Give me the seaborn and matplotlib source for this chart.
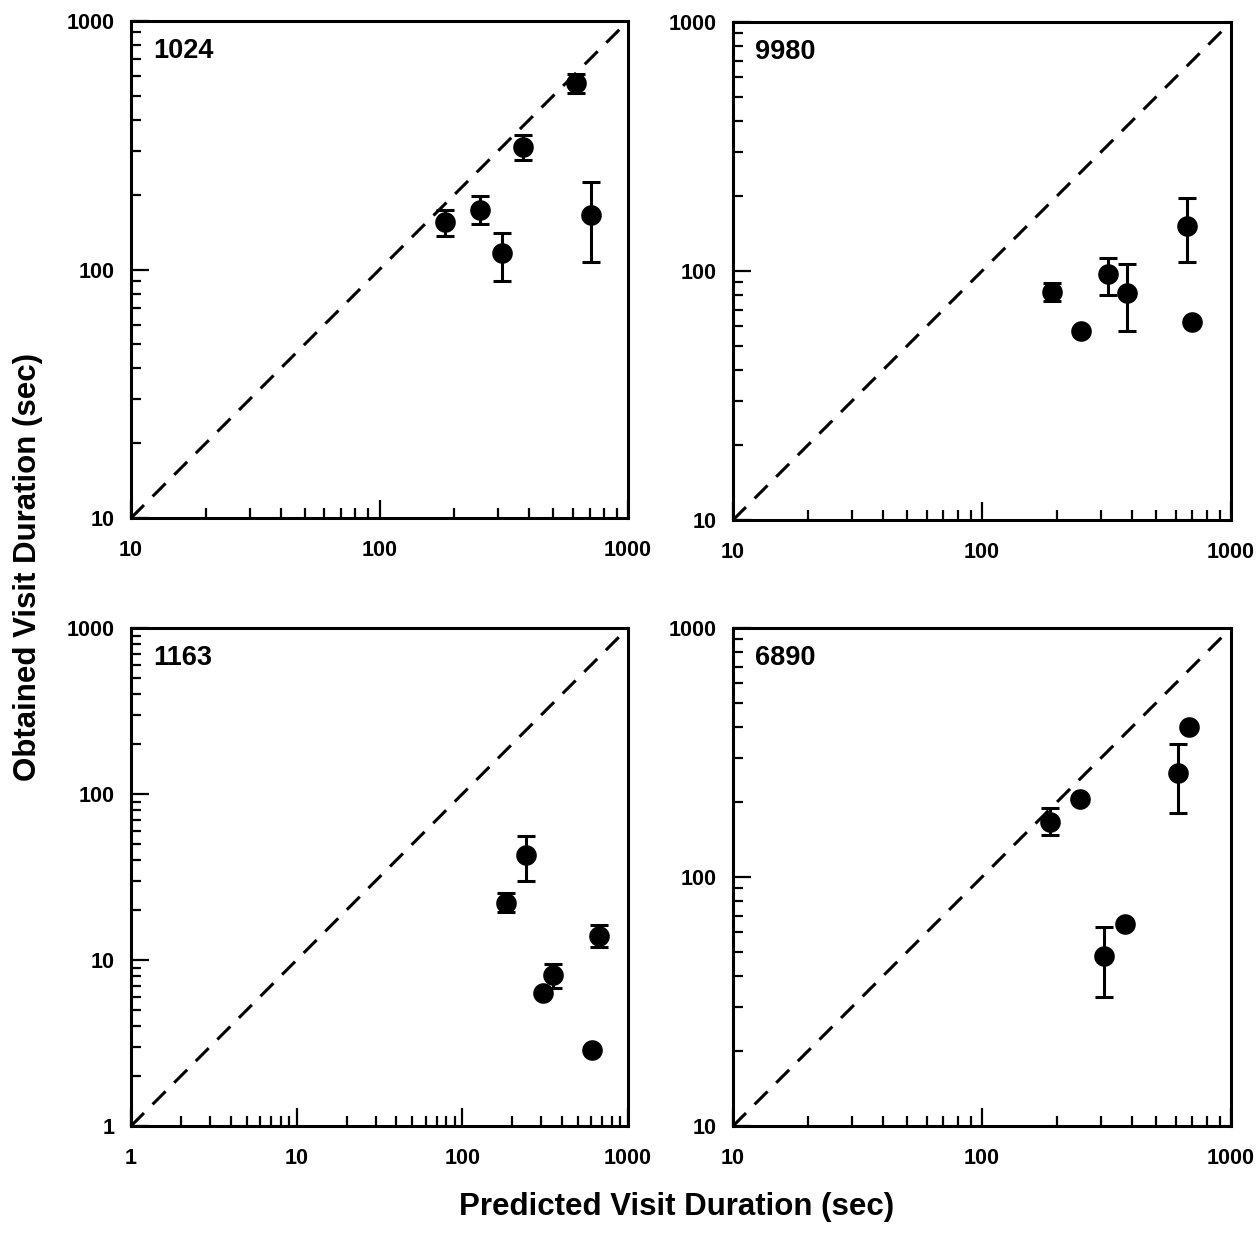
import numpy as np
import pandas as pd
import matplotlib
matplotlib.use("Agg")
import matplotlib.pyplot as plt
from matplotlib.ticker import LogLocator, FixedLocator, NullFormatter, FixedFormatter
import seaborn as sns

sns.set_theme(style="white")
plt.rcParams['font.family'] = ['Liberation Sans', 'DejaVu Sans']
plt.rcParams['font.weight'] = 'bold'

# ---------------- data ----------------
panel_names = ["1024", "9980", "1163", "6890"]

pred_1024 = [184, 253, 310, 378, 615, 709]
obt_1024 = [155, 174, 116, 310, 562, 166]
lo_1024 = [136, 152, 90, 277, 513, 107]
hi_1024 = [173, 197, 140, 348, 611, 225]

pred_9980 = [191, 249, 321, 384, 663, 697]
obt_9980 = [82.7, 57.5, 97, 81.8, 152, 62.5]
lo_9980 = [75.9, np.nan, 80.2, 57.5, 109, np.nan]
hi_9980 = [89.8, np.nan, 113, 106.6, 196, np.nan]

pred_1163 = [183, 242, 306, 352, 607, 668]
obt_1163 = [22.2, 43.2, 6.35, 8.15, 2.87, 14.0]
lo_1163 = [19.4, 30.1, np.nan, 6.8, np.nan, 11.9]
hi_1163 = [25.5, 55.7, np.nan, 9.5, np.nan, 16.3]

pred_6890 = [187, 247, 308, 374, 612, 678]
obt_6890 = [167, 205, 48.3, 65, 261, 400]
lo_6890 = [148, np.nan, 33, np.nan, 180, np.nan]
hi_6890 = [189, np.nan, 63.2, np.nan, 341, np.nan]

axis_min = [10, 10, 1, 10]
axis_max = [1000, 1000, 1000, 1000]

x_label = "Predicted Visit Duration (sec)"
y_label = "Obtained Visit Duration (sec)"

series = [
    (pred_1024, obt_1024, lo_1024, hi_1024),
    (pred_9980, obt_9980, lo_9980, hi_9980),
    (pred_1163, obt_1163, lo_1163, hi_1163),
    (pred_6890, obt_6890, lo_6890, hi_6890),
]

# ---------------- layout ----------------
W, H = 1260, 1251
fig = plt.figure(figsize=(W / 100, H / 100), dpi=100)
boxes_px = [  # left, top, right, bottom in pixels
    (131, 21, 628, 518),
    (733, 22, 1231, 520),
    (131, 628, 628, 1126),
    (733, 628, 1231, 1126),
]

for i, (l, t, r, b) in enumerate(boxes_px):
    ax = fig.add_axes([l / W, 1 - b / H, (r - l) / W, (b - t) / H])
    pred, obt, lo, hi = series[i]
    df = pd.DataFrame({"pred": pred, "obt": obt, "lo": lo, "hi": hi})
    lo_a = df["lo"].to_numpy(dtype=float)
    hi_a = df["hi"].to_numpy(dtype=float)
    yerr = np.vstack([df["obt"] - lo_a, hi_a - df["obt"]])
    mn, mx = axis_min[i], axis_max[i]

    ax.set_xscale("log")
    ax.set_yscale("log")
    ax.plot([mn, mx], [mn, mx], color="black", lw=2.2,
            linestyle=(0, (6, 4)), zorder=1)
    ax.errorbar(df["pred"], df["obt"], yerr=yerr, fmt="none", ecolor="black",
                elinewidth=2.2, capsize=6.8, capthick=2.2, zorder=2)
    sns.scatterplot(data=df, x="pred", y="obt", ax=ax, color="black",
                    s=220, linewidth=0, zorder=3, legend=False)
    ax.set_xlim(mn, mx)
    ax.set_ylim(mn, mx)

    majors = [10 ** k for k in range(int(np.log10(mn)), int(np.log10(mx)) + 1)]
    ax.xaxis.set_major_locator(FixedLocator(majors))
    ax.yaxis.set_major_locator(FixedLocator(majors))
    ax.xaxis.set_major_formatter(FixedFormatter([str(m) for m in majors]))
    ax.yaxis.set_major_formatter(FixedFormatter([str(m) for m in majors]))
    ax.xaxis.set_minor_locator(LogLocator(base=10, subs=np.arange(2, 10)))
    ax.yaxis.set_minor_locator(LogLocator(base=10, subs=np.arange(2, 10)))
    ax.xaxis.set_minor_formatter(NullFormatter())
    ax.yaxis.set_minor_formatter(NullFormatter())

    ax.tick_params(which="both", direction="in", top=False, right=False,
                   left=True, bottom=True, color="black", width=1.6)
    ax.tick_params(which="major", length=13)
    ax.tick_params(which="minor", length=7)
    ax.tick_params(axis="x", which="major", pad=16, labelsize=15.5)
    ax.tick_params(axis="y", which="major", pad=12, labelsize=15.5)
    for lab in ax.get_xticklabels() + ax.get_yticklabels():
        lab.set_fontweight("bold")
        lab.set_color("black")
    for sp in ax.spines.values():
        sp.set_visible(True)
        sp.set_color("black")
        sp.set_linewidth(2.2)
    ax.set_xlabel("")
    ax.set_ylabel("")
    ax.grid(False)
    ax.set_facecolor("white")
    ax.text(0.045, 0.965, panel_names[i], transform=ax.transAxes,
            ha="left", va="top", fontsize=19.5, fontweight="bold", color="black")

fig.text(677 / W, 1 - 1207 / H, x_label, ha="center", va="center",
         fontsize=22.5, fontweight="bold", color="black")
fig.text(28 / W, 1 - 567 / H, y_label, ha="center", va="center",
         rotation=90, fontsize=22.5, fontweight="bold", color="black")

fig.savefig("out.png", dpi=100, facecolor="white")
